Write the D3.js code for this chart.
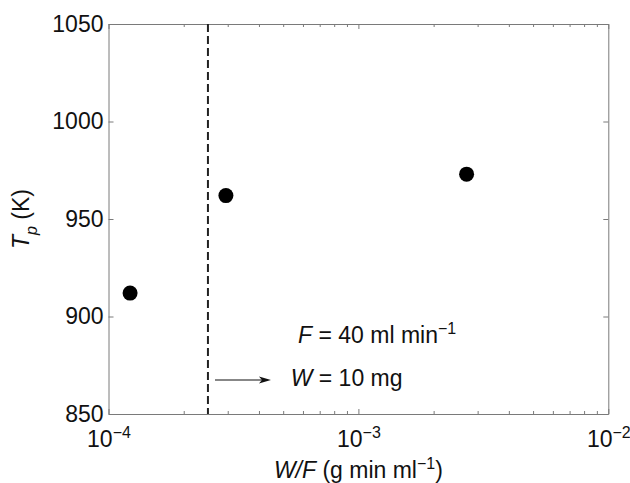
<!DOCTYPE html>
<html>
<head>
<meta charset="utf-8">
<script src="https://cdn.jsdelivr.net/npm/d3@7"></script>
<style>
  body { margin: 0; background: #fff; }
  svg { display: block; font-family: "Liberation Sans", Arial, sans-serif; }
</style>
</head>
<body>
<svg id="chart" width="630" height="483"></svg>
<script>
// ---- data ----
const wfValues = [1.22e-4, 2.95e-4, 2.71e-3];     // W/F (g min ml^-1)
const tpValues = [912, 962, 973];                 // T_p (K)
const dashedWF = 2.5e-4;                          // W/F at W = 10 mg, F = 40 ml/min
const yTicks = [850, 900, 950, 1000, 1050];
const xTicks = [1e-4, 1e-3, 1e-2];
const xTickExponents = ["\u22124", "\u22123", "\u22122"];
const xDomain = [1e-4, 1e-2];
const yDomain = [850, 1050];

// ---- layout ----
const plot = { left: 108.5, top: 24, right: 608.3, bottom: 414 };
const axisColor = "#7a7a7a";
const fs = 23, fsSup = 16;

const svg = d3.select("#chart");
const x = d3.scaleLog().domain(xDomain).range([plot.left, plot.right]);
const y = d3.scaleLinear().domain(yDomain).range([plot.bottom, plot.top]);

const minorTicks = [];
for (let d = -4; d < -2; d++) for (let k = 2; k <= 9; k++) minorTicks.push(k * Math.pow(10, d));

function style(g) {
  g.selectAll("path.domain").attr("stroke", axisColor).attr("stroke-width", 1);
  g.selectAll(".tick line").attr("stroke", axisColor).attr("stroke-width", 1);
  g.selectAll(".tick text").attr("fill", "#111").attr("font-size", fs)
    .attr("font-family", "Liberation Sans, Arial, sans-serif");
}

// bottom axis (major + labels)
const gB = svg.append("g").attr("transform", `translate(0,${plot.bottom})`)
  .call(d3.axisBottom(x).tickValues(xTicks).tickSizeInner(-5).tickSizeOuter(0)
    .tickPadding(0).tickFormat(() => ""));
style(gB);
gB.selectAll(".tick text").each(function(d, i) {
  const t = d3.select(this).attr("dy", null).attr("y", 33).attr("text-anchor", "middle");
  t.append("tspan").text("10");
  t.append("tspan").attr("font-size", fsSup).attr("dy", -9.5).text(xTickExponents[i]);
});
// bottom minor ticks
svg.append("g").attr("transform", `translate(0,${plot.bottom})`)
  .call(d3.axisBottom(x).tickValues(minorTicks).tickSizeInner(-3).tickSizeOuter(0).tickFormat(() => ""))
  .call(style).call(g => g.select(".domain").remove());

// top axis
svg.append("g").attr("transform", `translate(0,${plot.top})`)
  .call(d3.axisTop(x).tickValues(xTicks).tickSizeInner(-5).tickSizeOuter(0).tickFormat(() => ""))
  .call(style);
svg.append("g").attr("transform", `translate(0,${plot.top})`)
  .call(d3.axisTop(x).tickValues(minorTicks).tickSizeInner(-3).tickSizeOuter(0).tickFormat(() => ""))
  .call(style).call(g => g.select(".domain").remove());

// left axis
svg.append("g").attr("transform", `translate(${plot.left},0)`)
  .call(d3.axisLeft(y).tickValues(yTicks).tickSizeInner(-5).tickSizeOuter(0).tickPadding(5)
    .tickFormat(d3.format("d")))
  .call(style);

// right axis
svg.append("g").attr("transform", `translate(${plot.right},0)`)
  .call(d3.axisRight(y).tickValues(yTicks).tickSizeInner(-5).tickSizeOuter(0).tickFormat(() => ""))
  .call(style);

// dashed vertical line
svg.append("line")
  .attr("x1", x(dashedWF)).attr("x2", x(dashedWF))
  .attr("y1", y(yDomain[1])).attr("y2", y(yDomain[0]))
  .attr("stroke", "#222").attr("stroke-width", 2).attr("stroke-dasharray", "8,4");

// data points
svg.append("g").selectAll("circle")
  .data(wfValues.map((v, i) => ({ wf: v, tp: tpValues[i] })))
  .join("circle")
  .attr("cx", d => x(d.wf)).attr("cy", d => y(d.tp))
  .attr("r", 7.5).attr("fill", "#000");

// arrow from dashed line
const ax0 = x(dashedWF) + 7, ax1 = x(dashedWF) + 63, ay = 380;
svg.append("line").attr("x1", ax0).attr("x2", ax1 - 8).attr("y1", ay).attr("y2", ay)
  .attr("stroke", "#111").attr("stroke-width", 1.2);
svg.append("path")
  .attr("d", `M${ax1},${ay} L${ax1 - 12},${ay - 3.5} L${ax1 - 9},${ay} L${ax1 - 12},${ay + 3.5} Z`)
  .attr("fill", "#111");

// annotations
const tF = svg.append("text").attr("x", 298).attr("y", 343).attr("font-size", fs).attr("fill", "#111");
tF.append("tspan").attr("font-style", "italic").text("F");
tF.append("tspan").text(" = 40 ml min");
tF.append("tspan").attr("font-size", fsSup).attr("dy", -9.5).text("\u22121");

const tW = svg.append("text").attr("x", 290.7).attr("y", 386).attr("font-size", fs).attr("fill", "#111");
tW.append("tspan").attr("font-style", "italic").text("W");
tW.append("tspan").text(" = 10 mg");

// x axis title
const xt = svg.append("text").attr("x", (plot.left + plot.right) / 2).attr("y", 478)
  .attr("text-anchor", "middle").attr("font-size", fs).attr("fill", "#111");
xt.append("tspan").attr("font-style", "italic").text("W/F");
xt.append("tspan").text(" (g min ml");
xt.append("tspan").attr("font-size", fsSup).attr("dy", -9.5).text("\u22121");
xt.append("tspan").attr("dy", 9.5).text(")");

// y axis title
const yt = svg.append("text")
  .attr("transform", `translate(29,${(plot.top + plot.bottom) / 2}) rotate(-90)`)
  .attr("text-anchor", "middle").attr("font-size", fs).attr("fill", "#111");
yt.append("tspan").attr("font-style", "italic").text("T");
yt.append("tspan").attr("font-style", "italic").attr("font-size", fsSup).attr("dy", 8).text("p");
yt.append("tspan").attr("dy", -8).text(" (K)");
</script>
</body>
</html>
